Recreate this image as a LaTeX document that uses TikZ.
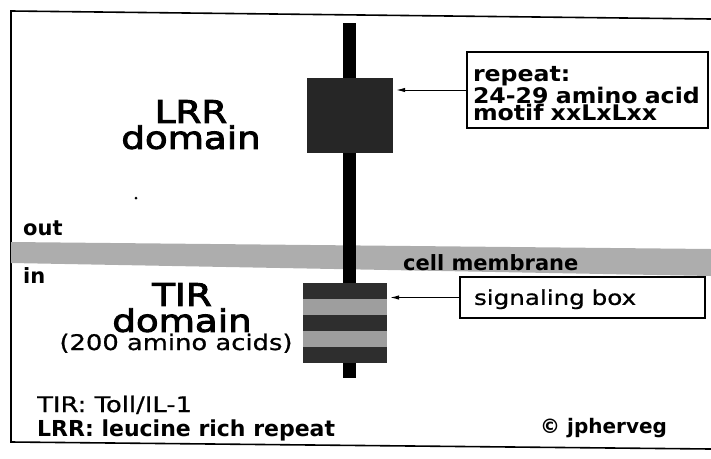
\documentclass[tikz,border=0pt]{standalone}
\usepackage{fontspec}
\setmainfont{DejaVu Sans}
\newfontfamily\widesans[FakeStretch=1.2, FakeBold=0.8]{DejaVu Sans}
\newfontfamily\heavysans[FakeStretch=1.2, FakeBold=3]{DejaVu Sans}
\newfontfamily\widebold[FakeStretch=1.1]{DejaVu Sans Bold}
\usetikzlibrary{arrows.meta,positioning,calc}

\tikzset{
  domainlbl/.style={inner sep=0pt, align=center, font=\heavysans\fontsize{31}{26}\selectfont},
  sidelbl/.style={anchor=base west, inner sep=0pt, font=\bfseries\fontsize{21}{21}\selectfont},
  notebox/.style={draw, line width=1.4pt, inner sep=0pt, align=left},
  pointer/.style={-{Latex[length=9pt,width=4.5pt]}, line width=1pt},
}

\begin{document}
\begin{tikzpicture}[x=1pt, y=-1pt]
  \useasboundingbox (0,0) rectangle (711,458);

  % Frame, open on the right
  \draw[line width=1.6pt] (711,19) -- (11,11) -- (11,442) -- (711,449);

  % Cell membrane band
  \fill[black!32] (11,242) -- (711,249) -- (711,276) -- (11,263) -- cycle;

  % Receptor backbone
  \fill[black] (343,23) rectangle (356,378);
  \fill (136,198) circle (1.5pt);

  % LRR block
  \node[fill=black!85, minimum width=86pt, minimum height=75pt, inner sep=0pt] (lrr) at (350,115.5) {};

  % TIR block, striped
  \node[minimum width=84pt, minimum height=80pt, inner sep=0pt] (tir) at (345,323) {};
  \foreach \i/\shade in {0/black!82, 1/black!38, 2/black!82, 3/black!38, 4/black!82}
    \fill[\shade] ($(tir.north west)+(0,16*\i)$) rectangle ($(tir.north east)+(0,16*\i+16)$);

  % Domain labels
  \node[domainlbl, anchor=north] (lrrlbl) at (191,100) {LRR\\domain};
  \node[domainlbl, anchor=north] (tirlbl) at (182,283) {TIR\\domain};
  \node[anchor=base, inner sep=0pt, font=\widesans\fontsize{21.5}{21.5}\selectfont] (tirsize) at (176,350) {(200 amino acids)};

  \node[sidelbl] (outlbl) at (23,235) {out};
  \node[sidelbl] (inlbl) at (23,283) {in};
  \node[sidelbl] (memlbl) at (403,270) {cell membrane};

  % Callout boxes
  \node[notebox, minimum width=241pt, minimum height=76pt, text width=229pt,
        font=\widebold\fontsize{21.5}{17.5}\selectfont] (repeat) at (587.5,90)
        {\rule{0pt}{22pt}repeat:\\24-29 amino acid\\motif xxLxLxx};
  \node[notebox, minimum width=245pt, minimum height=41pt, text width=217pt,
        font=\widesans\fontsize{20.5}{20.5}\selectfont] (signal) at (582.5,297.5) {\rule{0pt}{19pt}signaling box};

  \draw[pointer] (repeat.west) -- ($(lrr.east |- repeat.west)+(3,0)$);
  \draw[pointer] (signal.west) -- ($(tir.east |- signal.west)+(3,0)$);

  % Legend
  \node[anchor=base west, inner sep=0pt, font=\widesans\fontsize{21.5}{21.5}\selectfont] (tirkey) at (37,412) {TIR: Toll/IL-1};
  \node[anchor=base west, inner sep=0pt, font=\bfseries\fontsize{22}{22}\selectfont] (lrrkey) at (37,436) {LRR: leucine rich repeat};
  \node[anchor=base west, inner sep=0pt, font=\bfseries\fontsize{20}{20}\selectfont] (credit) at (540,433) {© jpherveg};
\end{tikzpicture}
\end{document}
